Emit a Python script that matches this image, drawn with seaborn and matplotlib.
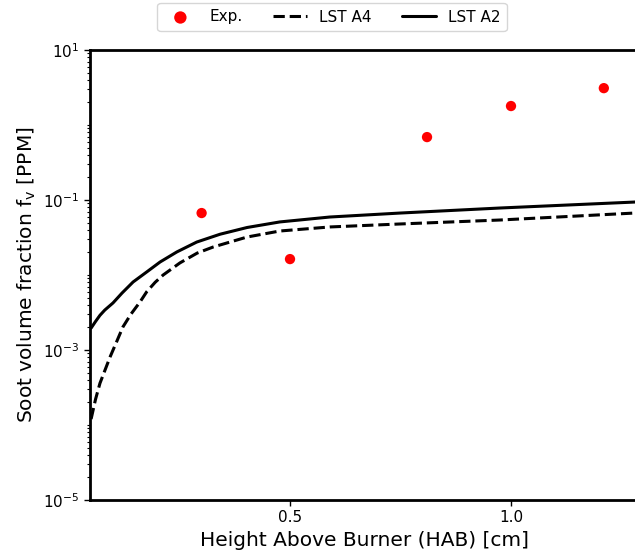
import numpy as np
import pandas as pd
import matplotlib
matplotlib.use('Agg')
import matplotlib.pyplot as plt
import matplotlib.ticker as mticker
import seaborn as sns

# experimental points
exp_hab = [0.30, 0.50, 0.81, 1.00, 1.21]
exp_fv = [0.067, 0.0163, 0.69, 1.79, 3.1]

# LST A4 (dashed)
a4_hab = [0.05, 0.060, 0.070, 0.082, 0.093, 0.108, 0.122, 0.140, 0.161, 0.176, 0.195,
          0.213, 0.251, 0.290, 0.326, 0.403, 0.477, 0.590, 0.749, 0.975, 1.29]
a4_fv = [1.2e-4, 2.2e-4, 3.6e-4, 5.5e-4, 8.1e-4, 1.3e-3, 2.03e-3, 3.0e-3, 4.4e-3,
         6.0e-3, 8.0e-3, 1.0e-2, 1.45e-2, 1.96e-2, 2.36e-2, 3.21e-2, 3.86e-2,
         4.37e-2, 4.79e-2, 5.41e-2, 6.75e-2]

# LST A2 (solid)
a2_hab = [0.05, 0.060, 0.070, 0.081, 0.0995, 0.120, 0.145, 0.176, 0.206, 0.244, 0.289,
          0.342, 0.403, 0.477, 0.590, 0.749, 0.975, 1.29]
a2_fv = [1.96e-3, 2.4e-3, 2.9e-3, 3.41e-3, 4.24e-3, 5.75e-3, 8.07e-3, 1.10e-2, 1.49e-2,
         2.03e-2, 2.75e-2, 3.50e-2, 4.30e-2, 5.10e-2, 5.93e-2, 6.70e-2, 7.82e-2, 9.45e-2]

sns.set_style('ticks')
plt.rcParams['font.family'] = ['DejaVu Sans']
plt.rcParams['mathtext.default'] = 'regular'
for k in ['text.color', 'axes.labelcolor', 'xtick.color', 'ytick.color', 'axes.edgecolor']:
    plt.rcParams[k] = 'black'

fig = plt.figure(figsize=(6.35, 5.55), dpi=100)
ax = fig.add_axes([90/635, 55/555, 550/635, 450/555])

sns.scatterplot(x=exp_hab, y=exp_fv, ax=ax, color='red', s=55, edgecolor='none',
                label='Exp.', zorder=3)
sns.lineplot(x=a4_hab, y=a4_fv, ax=ax, color='black', lw=2.2, linestyle='--',
             label='LST A4', sort=False)
sns.lineplot(x=a2_hab, y=a2_fv, ax=ax, color='black', lw=2.2, label='LST A2', sort=False)

ax.set_yscale('log')
ax.set_ylim(1e-5, 1e1)
ax.set_xlim(0.0475, 0.0475 + 550/442)
ax.set_yticks([1e-5, 1e-3, 1e-1, 1e1])
ax.yaxis.set_minor_locator(mticker.LogLocator(base=10, subs=np.arange(1, 10), numticks=100))
ax.yaxis.set_minor_formatter(mticker.NullFormatter())
ax.set_xticks([0.5, 1.0])
ax.set_xticklabels(['0.5', '1.0'])
ax.tick_params(axis='both', which='major', labelsize=11, length=4, width=1, direction='out')
ax.tick_params(axis='y', which='minor', left=True, length=2.5, width=0.8)

for s in ['left', 'bottom', 'top', 'right']:
    ax.spines[s].set_linewidth(2)

ax.set_xlabel('Height Above Burner (HAB) [cm]', fontsize=14.5)
ax.set_ylabel('Soot volume fraction $f_v$ [PPM]', fontsize=14.5)

ax.get_legend().remove()
h, l = ax.get_legend_handles_labels()
fig.legend(h, l, loc='center', bbox_to_anchor=(332/635, 1 - 17/555), ncol=3,
           fontsize=11, frameon=True, handlelength=2.2, columnspacing=2.0,
           markerscale=1.2)

plt.savefig('out.png', dpi=100)
